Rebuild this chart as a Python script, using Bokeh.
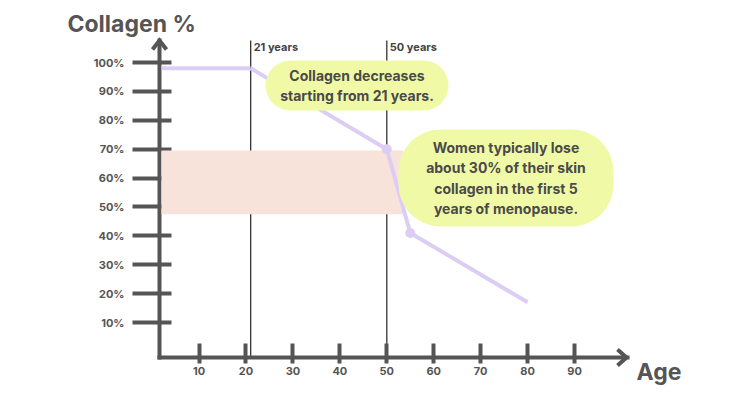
from bokeh.plotting import figure
from bokeh.models import Range1d, FixedTicker
from bokeh.core.properties import value
from bokeh.embed import file_html
from bokeh.resources import INLINE

# ---------------- data ----------------
age = [0, 21, 50, 55, 80]
collagen = [98, 98, 70, 41, 17]
marker_age = [50, 55]
marker_collagen = [70, 41]
band_low = [47.5]
band_high = [69.5]
band_left = [2.0]
band_right = [53.5]
milestones = [21, 50]
milestone_labels = ["21 years", "50 years"]
x_ticks = [10, 20, 30, 40, 50, 60, 70, 80, 90]
x_tick_labels = ["10", "20", "30", "40", "50", "60", "70", "80", "90"]
y_ticks = [10, 20, 30, 40, 50, 60, 70, 80, 90, 100]
y_tick_labels = ["10%", "20%", "30%", "40%", "50%", "60%", "70%", "80%", "90%", "100%"]
x_title = "Age"
y_title = "Collagen %"
note1 = "Collagen decreases\nstarting from 21 years."
note2 = "Women typically lose\nabout 30% of their skin\ncollagen in the first 5\nyears of menopause."

# ---------------- layout (page pixels -> data) ----------------
W, H = 742, 388
X0, XS = 151.6, 4.694   # px of age 0, px per year
Y0, YS = 350.9, 2.889   # px of 0 %, px per percent
AX_L, AX_R, AX_T, AX_B = 159, 627, 40, 357  # axis extents in px


def px2x(px):
    return (px - X0) / XS


def py2y(py):
    return (Y0 - py) / YS


FONT = "Inter"
INK = "#555555"
LAV = "#dccdf5"

p = figure(width=W, height=H, output_backend="svg", toolbar_location=None,
           x_range=Range1d(px2x(0), px2x(W)), y_range=Range1d(py2y(H), py2y(0)),
           min_border=0)
p.outline_line_color = None
p.grid.visible = False
p.background_fill_color = "white"
p.border_fill_color = "white"

for ax in (p.xaxis[0], p.yaxis[0]):
    ax.axis_line_color = INK
    ax.axis_line_width = 4
    ax.axis_line_cap = "square"
    ax.major_tick_line_color = INK
    ax.major_tick_line_width = 4
    ax.minor_tick_line_color = None
    ax.major_label_text_font = FONT
    ax.major_label_text_font_style = "bold"
    ax.major_label_text_color = INK
    ax.major_label_text_font_size = "11px"

xa = p.xaxis[0]
xa.fixed_location = py2y(AX_B)
xa.bounds = (px2x(AX_L), px2x(AX_R))
xa.ticker = FixedTicker(ticks=x_ticks)
xa.major_label_overrides = {t: l for t, l in zip(x_ticks, x_tick_labels)}
xa.major_tick_in = 14
xa.major_tick_out = 6
xa.major_label_standoff = 3

ya = p.yaxis[0]
ya.fixed_location = px2x(AX_L)
ya.bounds = (py2y(AX_B), py2y(AX_T))
ya.ticker = FixedTicker(ticks=y_ticks)
ya.major_label_overrides = {t: l for t, l in zip(y_ticks, y_tick_labels)}
ya.major_tick_in = 12
ya.major_tick_out = 27
ya.major_label_standoff = 8

# milestone vertical lines
p.segment(x0=milestones, x1=milestones, y0=[py2y(AX_B)] * 2, y1=[py2y(AX_T)] * 2,
          line_color="#333333", line_width=1.3, level="underlay")
p.text(x=milestones, y=[py2y(AX_T)] * len(milestones), text=milestone_labels,
       x_offset=3, y_offset=-1, text_baseline="top", text_align="left",
       text_font=value(FONT), text_font_style="bold", text_font_size="11px",
       text_color="#444444")

# pink band
p.quad(left=band_left, right=band_right, bottom=band_low, top=band_high,
       fill_color="#f8e3db", line_color=None, level="overlay")

# collagen curve
p.line(age[1:], collagen[1:], line_color=LAV, line_width=4, level="overlay")
p.line([px2x(AX_L + 2), age[1]], [collagen[0], collagen[1]], line_color=LAV,
       line_width=4, level="overlay")
p.scatter(marker_age, marker_collagen, size=10, fill_color=LAV, line_color=None,
          level="overlay")

# axis arrow heads (pixel geometry converted to data)
p.line([px2x(AX_R - 10), px2x(AX_R - 1), px2x(AX_R - 10)],
       [py2y(AX_B - 8), py2y(AX_B), py2y(AX_B + 8)],
       line_color=INK, line_width=4, line_join="miter", level="overlay")
p.line([px2x(AX_L - 7), px2x(AX_L), px2x(AX_L + 7)],
       [py2y(AX_T + 9), py2y(AX_T), py2y(AX_T + 9)],
       line_color=INK, line_width=4, line_join="miter", level="overlay")

# callout bubbles
b1 = dict(l=265, r=448, t=60, b=110)
b2 = dict(l=398, r=613, t=129, b=226)
BUB = "#f0f9a6"
p.quad(left=[px2x(b1["l"])], right=[px2x(b1["r"])], top=[py2y(b1["t"])],
       bottom=[py2y(b1["b"])], fill_color=BUB, line_color=None,
       border_radius=25, level="overlay")
p.quad(left=[px2x(b2["l"])], right=[px2x(b2["r"])], top=[py2y(b2["t"])],
       bottom=[py2y(b2["b"])], fill_color=BUB, line_color=None,
       border_radius=42, level="overlay")
p.text(x=[px2x((b1["l"] + b1["r"]) / 2)], y=[py2y((b1["t"] + b1["b"]) / 2)],
       text=[note1], text_align="center", text_baseline="middle",
       text_line_height=1.2, text_font=value(FONT), text_font_style="bold",
       text_font_size="14px", text_color="#4a4a4a", level="overlay")
p.text(x=[px2x((b2["l"] + b2["r"]) / 2)], y=[py2y((b2["t"] + b2["b"]) / 2)],
       text=[note2], text_align="center", text_baseline="middle",
       text_line_height=1.2, text_font=value(FONT), text_font_style="bold",
       text_font_size="14px", text_color="#4a4a4a", level="overlay")

# axis titles
p.text(x=[px2x(67)], y=[py2y(23.5)], text=[y_title], text_baseline="alphabetic",
       text_font=value(FONT), text_font_style="bold", text_font_size="23px",
       text_color=INK)
p.text(x=[px2x(636)], y=[py2y(371.5)], text=[x_title], text_baseline="alphabetic",
       text_font=value(FONT), text_font_style="bold", text_font_size="23px",
       text_color=INK)

open("out.html", "w").write(file_html(p, INLINE))
